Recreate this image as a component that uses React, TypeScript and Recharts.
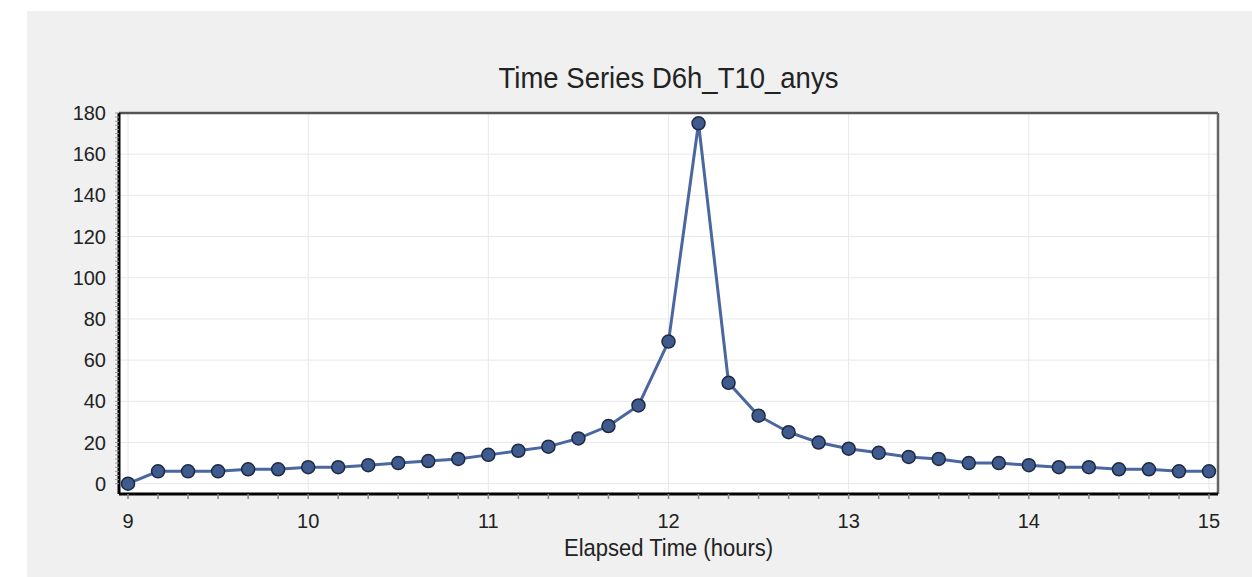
import { LineChart, Line, XAxis, YAxis, CartesianGrid, ReferenceLine } from "recharts";

const hours = [
  9, 9.1667, 9.3333, 9.5, 9.6667, 9.8333,
  10, 10.1667, 10.3333, 10.5, 10.6667, 10.8333,
  11, 11.1667, 11.3333, 11.5, 11.6667, 11.8333,
  12, 12.1667, 12.3333, 12.5, 12.6667, 12.8333,
  13, 13.1667, 13.3333, 13.5, 13.6667, 13.8333,
  14, 14.1667, 14.3333, 14.5, 14.6667, 14.8333,
  15,
];

const values = [
  0, 6, 6, 6, 7, 7,
  8, 8, 9, 10, 11, 12,
  14, 16, 18, 22, 28, 38,
  69, 175, 49, 33, 25, 20,
  17, 15, 13, 12, 10, 10,
  9, 8, 8, 7, 7, 6,
  6,
];

const xMajor = [9, 10, 11, 12, 13, 14, 15];
const yMajor = [0, 20, 40, 60, 80, 100, 120, 140, 160, 180];
const yMinor = [
  0, 2, 4, 6, 8, 10, 12, 14, 16, 18, 20, 22, 24, 26, 28, 30, 32, 34, 36, 38,
  40, 42, 44, 46, 48, 50, 52, 54, 56, 58, 60, 62, 64, 66, 68, 70, 72, 74, 76, 78,
  80, 82, 84, 86, 88, 90, 92, 94, 96, 98, 100, 102, 104, 106, 108, 110, 112, 114, 116, 118,
  120, 122, 124, 126, 128, 130, 132, 134, 136, 138, 140, 142, 144, 146, 148, 150, 152, 154, 156, 158,
  160, 162, 164, 166, 168, 170, 172, 174, 176, 178, 180,
];

const data = hours.map((t, i) => ({ t, v: values[i] }));

const font = "'Liberation Sans', Arial, sans-serif";

function XTick(props: any) {
  const { x, y, payload } = props;
  const v = payload.value;
  if (!xMajor.some((m) => Math.abs(m - v) < 0.01)) return null;
  return (
    <text x={x} y={y} dy="0.71em" textAnchor="middle" fill="#222" fontSize={20} fontFamily={font}>
      {Math.round(v)}
    </text>
  );
}

function YTick(props: any) {
  const { x, y, payload } = props;
  if (!yMajor.includes(payload.value)) return null;
  return (
    <text x={x} y={y} dy="0.355em" textAnchor="end" fill="#222" fontSize={20} fontFamily={font}>
      {payload.value}
    </text>
  );
}

export default function App() {
  return (
    <div
      style={{
        position: "absolute",
        left: 27,
        top: 11,
        width: 1225,
        height: 566,
        background: "#f0f0f0",
        fontFamily: font,
      }}
    >
      <div
        style={{
          position: "absolute",
          left: 92,
          width: 1099,
          top: 51,
          textAlign: "center",
          fontSize: 27.5,
          lineHeight: "32px",
          color: "#222",
          transform: "scaleY(1.08)",
        }}
      >
        Time Series D6h_T10_anys
      </div>
      <LineChart
        width={1225}
        height={566}
        data={data}
        margin={{ top: 102, right: 34, bottom: 0, left: 0 }}
      >
        <CartesianGrid fill="#ffffff" horizontal={false} vertical={false} />
        {xMajor.map((m) => (
          <ReferenceLine key={"gx" + m} x={m} stroke="#e8e8e8" strokeWidth={1} />
        ))}
        {yMajor.map((m) => (
          <ReferenceLine key={"gy" + m} y={m} stroke="#e8e8e8" strokeWidth={1} />
        ))}
        <ReferenceLine y={180} stroke="#555" strokeWidth={2.5} />
        <ReferenceLine x={15.05} stroke="#666" strokeWidth={2.5} />
        <XAxis
          dataKey="t"
          type="number"
          domain={[8.95, 15.05]}
          ticks={hours}
          interval={0}
          allowDataOverflow
          height={83}
          tickSize={5}
          tickMargin={15}
          tick={<XTick />}
          tickLine={{ stroke: "#888", strokeWidth: 1.5 }}
          axisLine={{ stroke: "#000", strokeWidth: 3 }}
        />
        <YAxis
          type="number"
          domain={[-5, 180]}
          ticks={yMinor}
          interval={0}
          allowDataOverflow
          width={92}
          tickSize={4}
          tickMargin={9}
          tick={<YTick />}
          tickLine={{ stroke: "#999", strokeWidth: 1 }}
          axisLine={{ stroke: "#000", strokeWidth: 3 }}
        />
        <Line
          type="linear"
          dataKey="v"
          stroke="#4a67a0"
          strokeWidth={3}
          dot={{ r: 6.5, fill: "#3f5a8c", stroke: "#1e2a44", strokeWidth: 1.5 }}
          activeDot={false}
          isAnimationActive={false}
        />
      </LineChart>
      <div
        style={{
          position: "absolute",
          left: 92,
          width: 1099,
          top: 524,
          textAlign: "center",
          fontSize: 22,
          lineHeight: "26px",
          color: "#222",
          transform: "scaleY(1.1)",
        }}
      >
        Elapsed Time (hours)
      </div>
    </div>
  );
}
